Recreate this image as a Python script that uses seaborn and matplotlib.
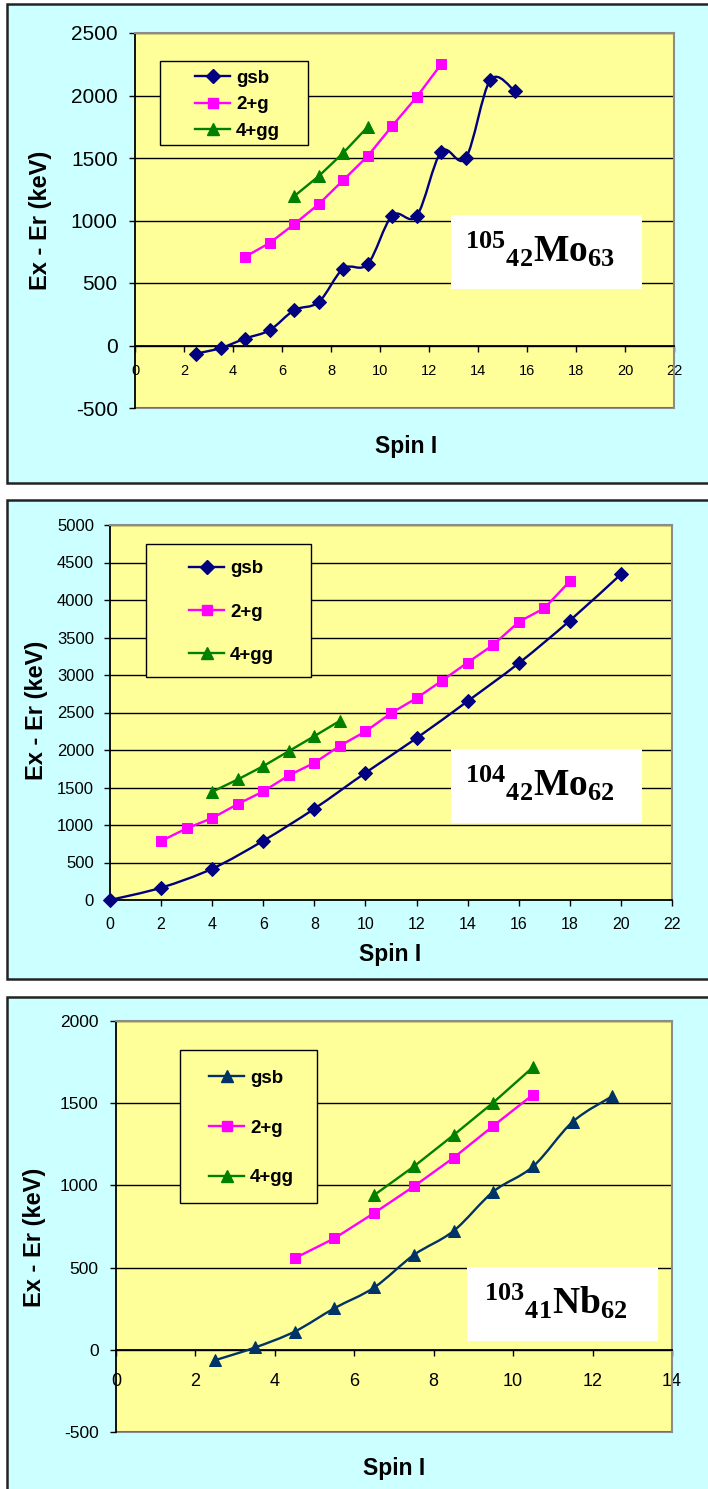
import numpy as np
import matplotlib
matplotlib.use("Agg")
import matplotlib.pyplot as plt
from matplotlib.patches import Rectangle, PathPatch
from matplotlib.path import Path
from matplotlib.lines import Line2D
import seaborn as sns

# ---- data: 105Mo (panel 1) ----
mo105_gsb_spin = [2.5, 3.5, 4.5, 5.5, 6.5, 7.5, 8.5, 9.5, 10.5, 11.5, 12.5, 13.5, 14.5, 15.5]
mo105_gsb_e = [-65, -20, 56, 123, 283, 348, 615, 652, 1040, 1037, 1551, 1500, 2123, 2037]
mo105_2g_spin = [4.5, 5.5, 6.5, 7.5, 8.5, 9.5, 10.5, 11.5, 12.5]
mo105_2g_e = [710, 821, 971, 1131, 1323, 1516, 1757, 1989, 2251]
mo105_4gg_spin = [6.5, 7.5, 8.5, 9.5]
mo105_4gg_e = [1195, 1355, 1541, 1749]

# ---- data: 104Mo (panel 2) ----
mo104_gsb_spin = [0, 2, 4, 6, 8, 10, 12, 14, 16, 18, 20]
mo104_gsb_e = [0, 164, 417, 790, 1217, 1696, 2158, 2651, 3157, 3725, 4343]
mo104_2g_spin = [2, 3, 4, 5, 6, 7, 8, 9, 10, 11, 12, 13, 14, 15, 16, 17, 18]
mo104_2g_e = [786, 955, 1092, 1279, 1448, 1661, 1829, 2056, 2247, 2491, 2691, 2926,
              3166, 3401, 3708, 3890, 4250]
mo104_4gg_spin = [4, 5, 6, 7, 8, 9]
mo104_4gg_e = [1443, 1607, 1785, 1985, 2185, 2389]

# ---- data: 103Nb (panel 3) ----
nb103_gsb_spin = [2.5, 3.5, 4.5, 5.5, 6.5, 7.5, 8.5, 9.5, 10.5, 11.5, 12.5]
nb103_gsb_e = [-63, 14, 111, 253, 379, 577, 723, 962, 1115, 1387, 1543]
nb103_2g_spin = [4.5, 5.5, 6.5, 7.5, 8.5, 9.5, 10.5]
nb103_2g_e = [557, 678, 832, 994, 1168, 1362, 1552]
nb103_4gg_spin = [6.5, 7.5, 8.5, 9.5, 10.5]
nb103_4gg_e = [941, 1115, 1306, 1504, 1719]

band_labels = ["gsb", "2+g", "4+gg"]

W, H = 708, 1489
PANEL_BG = "#ccffff"
PLOT_BG = "#ffff99"
NAVY = "#000080"
MAGENTA = "#ff00ff"
GREEN = "#008000"
SLATE = "#003366"

plt.rcParams["font.family"] = ["Liberation Sans", "DejaVu Sans"]
plt.rcParams["axes.unicode_minus"] = False
plt.rcParams["mathtext.fontset"] = "custom"
plt.rcParams["mathtext.bf"] = "Liberation Serif:bold"
plt.rcParams["mathtext.rm"] = "Liberation Serif:bold"


def px_rect(x0, y0, x1, y1):
    return [x0 / W, 1 - y1 / H, (x1 - x0) / W, (y1 - y0) / H]


def fx(x):
    return x / W


def fy(y):
    return 1 - y / H


def smooth_path(xs, ys):
    # excel-style smoothed line (catmull-rom as cubic bezier)
    pts = np.column_stack([xs, ys]).astype(float)
    n = len(pts)
    verts = [pts[0]]
    codes = [Path.MOVETO]
    for i in range(n - 1):
        p0 = pts[max(i - 1, 0)]
        p1 = pts[i]
        p2 = pts[i + 1]
        p3 = pts[min(i + 2, n - 1)]
        verts += [p1 + (p2 - p0) / 6, p2 - (p3 - p1) / 6, p2]
        codes += [Path.CURVE4] * 3
    return Path(verts, codes)


fig = plt.figure(figsize=(W / 100, H / 100), dpi=100)
fig.patch.set_facecolor("white")

# outer panel frames
for y0, y1 in [(4, 483), (500, 979), (997, 1500)]:
    fig.patches.append(Rectangle((fx(7), fy(y1)), fx(720) - fx(7), fy(y0) - fy(y1),
                                 transform=fig.transFigure, facecolor=PANEL_BG,
                                 edgecolor="#222222", linewidth=1.8, zorder=-5))


def setup_axes(rect, xlim, ylim, ystep, ytick_fs, xtick_fs, xpad, ypad, axis_at_zero):
    ax = fig.add_axes(px_rect(*rect))
    ax.set_facecolor(PLOT_BG)
    ax.set_xlim(*xlim)
    ax.set_ylim(*ylim)
    ax.set_xticks(np.arange(xlim[0], xlim[1] + 1, 2))
    ax.set_yticks(np.arange(ylim[0], ylim[1] + 1, ystep))
    ax.yaxis.grid(True, color="black", linewidth=1.0)
    ax.set_axisbelow(True)
    for s in ["top", "right"]:
        ax.spines[s].set_color("#8c8c8c")
        ax.spines[s].set_linewidth(1.5)
    ax.spines["left"].set_color("black")
    ax.spines["left"].set_linewidth(1.3)
    ax.spines["bottom"].set_color("black")
    ax.spines["bottom"].set_linewidth(1.3)
    if axis_at_zero:
        ax.spines["bottom"].set_position(("data", 0))
        ax.axhline(ylim[0], color="#8c8c8c", linewidth=1.5, clip_on=False, zorder=0.5)
    ax.tick_params(axis="y", direction="out", length=4.5, width=1, labelsize=ytick_fs,
                   pad=ypad, colors="black")
    ax.tick_params(axis="x", direction="out", length=4, width=1, labelsize=xtick_fs,
                   pad=xpad, colors="black")
    return ax


def draw_bands(ax, bands):
    handles = []
    for xs, ys, color, marker, ms, smooth in bands:
        if smooth:
            ax.add_patch(PathPatch(smooth_path(xs, ys), facecolor="none", edgecolor=color,
                                   linewidth=1.7, zorder=3))
            sns.lineplot(x=xs, y=ys, ax=ax, color=color, marker=marker, markersize=ms,
                         markeredgecolor=color, linestyle="", sort=False, zorder=4,
                         clip_on=False)
        else:
            sns.lineplot(x=xs, y=ys, ax=ax, color=color, marker=marker, markersize=ms,
                         markeredgecolor=color, linewidth=1.7, sort=False, zorder=4,
                         clip_on=False)
        handles.append(Line2D([], [], color=color, marker=marker, markersize=ms,
                              markeredgecolor=color, linewidth=1.7))
    ax.set_xlabel("")
    ax.set_ylabel("")
    return handles


def add_legend(ax, handles, box, handle_x, row_center, spacing):
    ax.add_patch(Rectangle((fx(box[0]), fy(box[3])), fx(box[2]) - fx(box[0]),
                           fy(box[1]) - fy(box[3]), transform=fig.transFigure,
                           facecolor=PLOT_BG, edgecolor="black", linewidth=1.0,
                           clip_on=False, zorder=2))
    leg = ax.legend(handles, band_labels, loc="center left",
                    bbox_to_anchor=(fx(handle_x), fy(row_center)),
                    bbox_transform=fig.transFigure, frameon=False, borderpad=0,
                    borderaxespad=0, handlelength=34 / 18, handletextpad=0.3,
                    labelspacing=spacing, prop={"weight": "bold", "size": 13.5})
    leg.set_zorder(5)


def add_nuclide(box, text, tx, ty):
    fig.patches.append(Rectangle((fx(box[0]), fy(box[3])), fx(box[2]) - fx(box[0]),
                                 fy(box[1]) - fy(box[3]), transform=fig.transFigure,
                                 facecolor="white", edgecolor="none", zorder=5))
    fig.text(fx(tx), fy(ty), text, fontsize=27, ha="center", va="center", zorder=6)


def add_labels(ylx, yly, xlx, xly):
    fig.text(fx(ylx), fy(yly), "Ex - Er (keV)", rotation=90, fontsize=17,
             fontweight="bold", ha="center", va="center")
    fig.text(fx(xlx), fy(xly), "Spin I", fontsize=16.5, fontweight="bold",
             ha="center", va="center")


# ---- panel 1: 105Mo ----
ax1 = setup_axes((135, 33, 674, 408), (0, 22), (-500, 2500), 500, 15, 10.5, 9, 8, True)
h1 = draw_bands(ax1, [
    (mo105_gsb_spin, mo105_gsb_e, NAVY, "D", 7.5, True),
    (mo105_2g_spin, mo105_2g_e, MAGENTA, "s", 7.5, False),
    (mo105_4gg_spin, mo105_4gg_e, GREEN, "^", 9, False),
])
add_legend(ax1, h1, (160, 61, 308, 145), 195, 104.5, 0.5)
add_nuclide((451, 215, 642, 289), r"$\mathbf{{}^{105}{}_{42}Mo_{63}}$", 540, 250)
add_labels(41, 220, 406, 447)

# ---- panel 2: 104Mo ----
ax2 = setup_axes((110, 525, 672, 900), (0, 22), (0, 5000), 500, 12, 11.5, 8, 7, False)
h2 = draw_bands(ax2, [
    (mo104_gsb_spin, mo104_gsb_e, NAVY, "D", 7.5, True),
    (mo104_2g_spin, mo104_2g_e, MAGENTA, "s", 7.5, False),
    (mo104_4gg_spin, mo104_4gg_e, GREEN, "^", 9, False),
])
add_legend(ax2, h2, (146, 544, 311, 677), 189, 612, 1.4)
add_nuclide((451, 749, 642, 823), r"$\mathbf{{}^{104}{}_{42}Mo_{62}}$", 540, 784)
add_labels(37, 710, 390, 954)

# ---- panel 3: 103Nb ----
ax3 = setup_axes((116, 1021, 672, 1432), (0, 14), (-500, 2000), 500, 12.5, 13, 13, 8, True)
h3 = draw_bands(ax3, [
    (nb103_gsb_spin, nb103_gsb_e, SLATE, "^", 9, True),
    (nb103_2g_spin, nb103_2g_e, MAGENTA, "s", 7.5, False),
    (nb103_4gg_spin, nb103_4gg_e, GREEN, "^", 9, False),
])
add_legend(ax3, h3, (180, 1050, 317, 1203), 209, 1128, 1.75)
add_nuclide((467, 1267, 658, 1341), r"$\mathbf{{}^{103}{}_{41}Nb_{62}}$", 556, 1302)
add_labels(35, 1237, 394, 1468)

fig.savefig("out.png", dpi=100, facecolor=fig.get_facecolor())
